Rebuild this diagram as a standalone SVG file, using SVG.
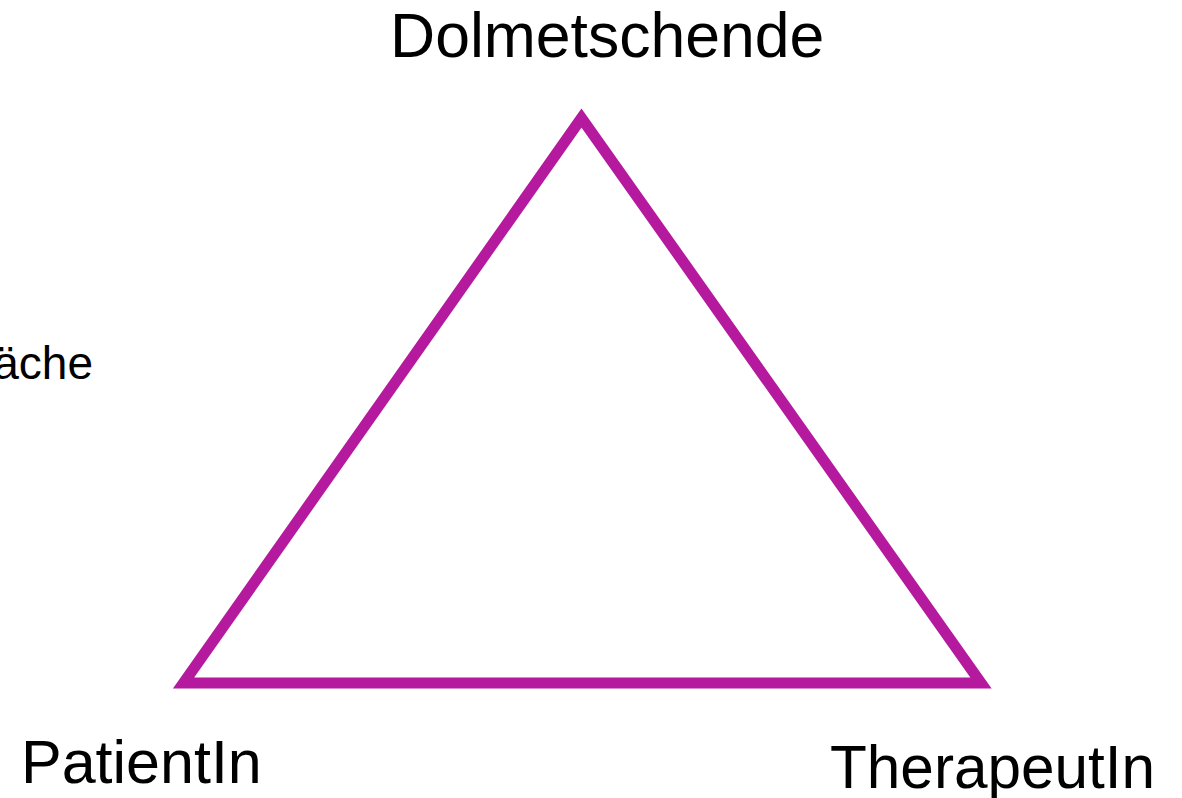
<svg xmlns="http://www.w3.org/2000/svg" width="1182" height="798" viewBox="0 0 1182 798">
<style>
.lbl{font-family:"Liberation Sans",Arial,sans-serif;fill:#000}
.edge{fill:none;stroke:#B5199E;stroke-width:11;stroke-linejoin:miter;stroke-miterlimit:10}
</style>
<rect width="1182" height="798" fill="#fff"/>
<g id="connectors">
<polygon class="edge" points="581.5,118 183.5,683 981,683"/>
</g>
<g id="node-dolmetschende"><text class="lbl" x="390" y="57" font-size="62.5">Dolmetschende</text></g>
<g id="node-patientin"><text class="lbl" x="21" y="783" font-size="61">PatientIn</text></g>
<g id="node-therapeutin"><text class="lbl" x="830" y="788" font-size="60.3">TherapeutIn</text></g>
<g id="node-flaeche"><text class="lbl" x="93" y="379" font-size="46" text-anchor="end">äche</text></g>
</svg>
